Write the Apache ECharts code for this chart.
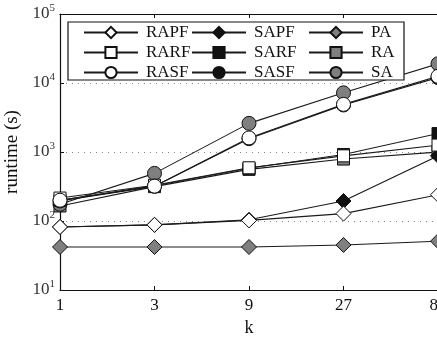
<!DOCTYPE html>
<html>
<head>
<meta charset="utf-8">
<script src="https://cdn.jsdelivr.net/npm/echarts@6/dist/echarts.min.js"></script>
<style>html,body{margin:0;padding:0;background:#fff}#c{width:437px;height:339px}</style>
</head>
<body>
<div id="c"></div>
<script>
var categories = ['1', '3', '9', '27', '81'];
var yTicks = [10, 100, 1000, 10000, 100000];
var RAPF = [82, 88, 102, 128, 240];
var SAPF = [82, 88, 104, 195, 880];
var PA   = [42, 42, 42, 45, 51];
var RARF = [215, 330, 590, 880, 1260];
var SARF = [200, 325, 580, 920, 1850];
var RA   = [165, 315, 560, 790, 1000];
var RASF = [200, 320, 1600, 4900, 12500];
var SASF = [195, 318, 1560, 4800, 12000];
var SA   = [175, 490, 2600, 7200, 19000];

var FONT = 'Liberation Serif';
var GRAY = '#7f7f7f';

function mk(name, data, symbol, size, fill) {
  return {
    name: name, type: 'line', data: data,
    symbol: symbol, symbolSize: size,
    showAllSymbol: true,
    lineStyle: { color: '#1a1a1a', width: 1.1 },
    itemStyle: { color: fill, borderColor: '#111', borderWidth: 1 },
    emphasis: { disabled: true },
    animation: false
  };
}

var series = [
  mk('PA', PA, 'diamond', 15, GRAY),
  mk('RA', RA, 'rect', 12, GRAY),
  mk('SA', SA, 'circle', 14, GRAY),
  mk('SAPF', SAPF, 'diamond', 15, '#111'),
  mk('SARF', SARF, 'rect', 12, '#111'),
  mk('SASF', SASF, 'circle', 14, '#111'),
  mk('RAPF', RAPF, 'diamond', 15, '#fff'),
  mk('RARF', RARF, 'rect', 12, '#fff'),
  mk('RASF', RASF, 'circle', 14, '#fff')
];

function legendCol(left, names) {
  return {
    orient: 'vertical', left: left, top: 19, itemGap: 3,
    itemWidth: 54, itemHeight: 14,
    data: names, z: 10,
    textStyle: { fontFamily: FONT, fontSize: 17, color: '#111', padding: [0, 0, 0, 3] },
    selectedMode: false
  };
}

var chart = echarts.init(document.getElementById('c'), null, { renderer: 'canvas' });
chart.setOption({
  animation: false,
  backgroundColor: '#fff',
  grid: { left: 60, right: -1, top: 14, bottom: 49, containLabel: false, outerBoundsMode: 'none' },
  xAxis: [{
    type: 'category', data: categories, boundaryGap: false,
    name: 'k', nameLocation: 'middle', nameGap: 28,
    nameTextStyle: { fontFamily: FONT, fontSize: 18, color: '#111' },
    axisLine: { lineStyle: { color: '#111', width: 1.2 } },
    axisTick: { inside: true, length: 4, lineStyle: { color: '#111' } },
    axisLabel: { fontFamily: FONT, fontSize: 17, color: '#111', margin: 7 },
    splitLine: { show: false }
  }, {
    type: 'category', data: categories, boundaryGap: false, position: 'top',
    axisLine: { lineStyle: { color: '#111', width: 1.2 } },
    axisTick: { inside: true, length: 4, lineStyle: { color: '#111' } },
    axisLabel: { show: false }
  }],
  yAxis: [{
    type: 'log', logBase: 10, min: 10, max: 100000,
    name: 'runtime (s)', nameLocation: 'middle', nameGap: 38,
    nameTextStyle: { fontFamily: FONT, fontSize: 19, color: '#111' },
    axisLine: { show: true, lineStyle: { color: '#111', width: 1.2 } },
    axisTick: { show: true, inside: true, length: 4, lineStyle: { color: '#111' } },
    axisLabel: {
      margin: 5,
      formatter: function (v) {
        var e = Math.round(Math.log10(v));
        return '{b|10}{s|' + e + '}';
      },
      rich: {
        b: { fontFamily: FONT, fontSize: 17, color: '#333', verticalAlign: 'middle', lineHeight: 22 },
        s: { fontFamily: FONT, fontSize: 11, color: '#333', verticalAlign: 'top', lineHeight: 22 }
      }
    },
    splitLine: { show: true, lineStyle: { color: '#888', type: [1, 5], width: 1 } }
  }, {
    type: 'log', logBase: 10, min: 10, max: 100000, position: 'right',
    axisLine: { show: true, lineStyle: { color: '#111', width: 1.2 } },
    axisLabel: { show: false }, axisTick: { show: false }, splitLine: { show: false }
  }],
  legend: [
    legendCol(78, ['RAPF', 'RARF', 'RASF']),
    legendCol(186, ['SAPF', 'SARF', 'SASF']),
    legendCol(303, ['PA', 'RA', 'SA'])
  ],
  graphic: [{
    type: 'rect', z: 5,
    shape: { x: 68, y: 22, width: 336, height: 58 },
    style: { fill: '#fff', stroke: '#111', lineWidth: 1.2 }
  }],
  series: series
});
</script>
</body>
</html>
